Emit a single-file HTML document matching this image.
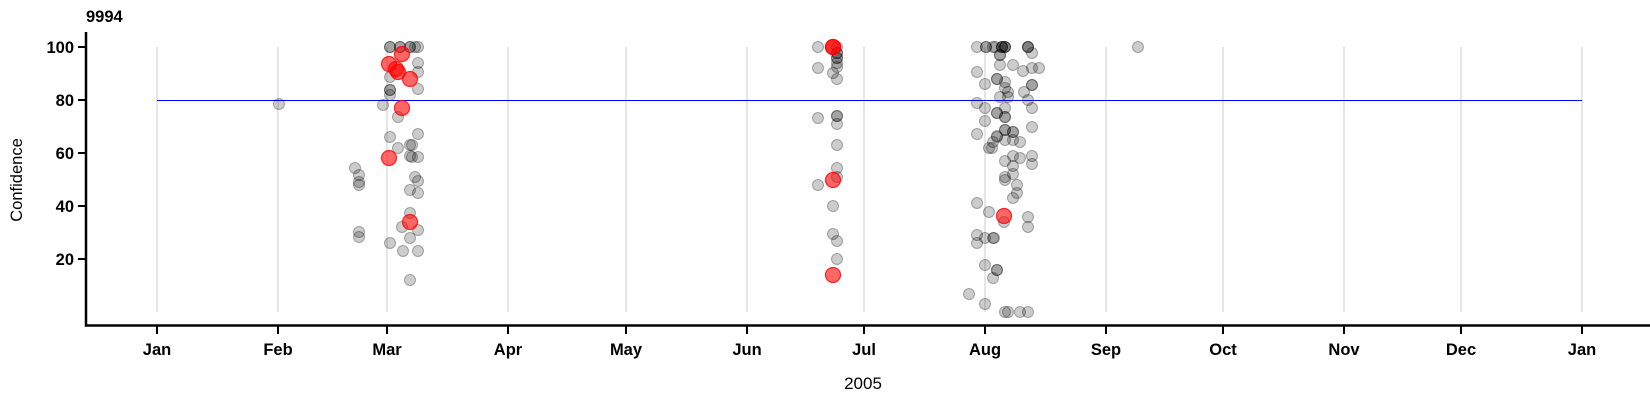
<!DOCTYPE html>
<html><head><meta charset="utf-8"><style>
html,body{margin:0;padding:0;background:#fff;}
svg{display:block;font-family:"Liberation Sans",Arial,sans-serif;}
.g{fill:rgba(0,0,0,0.2);stroke:rgba(0,0,0,0.3);stroke-width:1}
.r{fill:rgba(255,0,0,0.6);stroke:rgba(255,0,0,0.8);stroke-width:1.2}
.t{font-weight:bold;font-size:16.5px;fill:#000}
</style></head><body>
<svg width="1650" height="400" viewBox="0 0 1650 400">
<g stroke="#cccccc" stroke-width="1">
<line x1="157" y1="47" x2="157" y2="312"/><line x1="278" y1="47" x2="278" y2="312"/><line x1="387" y1="47" x2="387" y2="312"/><line x1="508" y1="47" x2="508" y2="312"/><line x1="626" y1="47" x2="626" y2="312"/><line x1="747" y1="47" x2="747" y2="312"/><line x1="864" y1="47" x2="864" y2="312"/><line x1="985" y1="47" x2="985" y2="312"/><line x1="1106" y1="47" x2="1106" y2="312"/><line x1="1223" y1="47" x2="1223" y2="312"/><line x1="1344" y1="47" x2="1344" y2="312"/><line x1="1461" y1="47" x2="1461" y2="312"/><line x1="1582" y1="47" x2="1582" y2="312"/>
</g>
<line x1="157" y1="100.5" x2="1582" y2="100.5" stroke="#0000ff" stroke-width="1"/>
<g stroke="#000" stroke-width="2.5" fill="none">
<path d="M86 32 V325.5 H1650"/>
</g>
<g stroke="#000" stroke-width="2">
<line x1="78" y1="47" x2="86" y2="47"/><line x1="78" y1="100" x2="86" y2="100"/><line x1="78" y1="153" x2="86" y2="153"/><line x1="78" y1="206" x2="86" y2="206"/><line x1="78" y1="259" x2="86" y2="259"/>
<line x1="157" y1="326" x2="157" y2="334"/><line x1="278" y1="326" x2="278" y2="334"/><line x1="387" y1="326" x2="387" y2="334"/><line x1="508" y1="326" x2="508" y2="334"/><line x1="626" y1="326" x2="626" y2="334"/><line x1="747" y1="326" x2="747" y2="334"/><line x1="864" y1="326" x2="864" y2="334"/><line x1="985" y1="326" x2="985" y2="334"/><line x1="1106" y1="326" x2="1106" y2="334"/><line x1="1223" y1="326" x2="1223" y2="334"/><line x1="1344" y1="326" x2="1344" y2="334"/><line x1="1461" y1="326" x2="1461" y2="334"/><line x1="1582" y1="326" x2="1582" y2="334"/>
</g>
<text x="86" y="22" class="t" font-size="15.5">9994</text>
<g class="t" text-anchor="end">
<text x="74" y="53">100</text><text x="74" y="106">80</text><text x="74" y="159">60</text><text x="74" y="212">40</text><text x="74" y="265">20</text>
</g>
<g class="t" text-anchor="middle">
<text x="157" y="355">Jan</text><text x="278" y="355">Feb</text><text x="387" y="355">Mar</text><text x="508" y="355">Apr</text><text x="626" y="355">May</text><text x="747" y="355">Jun</text><text x="864" y="355">Jul</text><text x="985" y="355">Aug</text><text x="1106" y="355">Sep</text><text x="1223" y="355">Oct</text><text x="1344" y="355">Nov</text><text x="1461" y="355">Dec</text><text x="1582" y="355">Jan</text>
</g>
<text x="863" y="389" text-anchor="middle" font-size="17">2005</text>
<text transform="translate(22,180) rotate(-90)" text-anchor="middle" font-size="16.5">Confidence</text>
<g class="g">
<circle cx="279" cy="104" r="5.5"/><circle cx="1138" cy="47" r="5.5"/>
<circle cx="390" cy="47" r="5.5"/><circle cx="390" cy="47" r="5.5"/><circle cx="400" cy="47" r="5.5"/><circle cx="400" cy="47" r="5.5"/><circle cx="410" cy="47" r="5.5"/><circle cx="410" cy="47" r="5.5"/><circle cx="415" cy="47" r="5.5"/><circle cx="418" cy="47" r="5.5"/>
<circle cx="390" cy="77" r="5.5"/><circle cx="390" cy="90" r="5.5"/><circle cx="390" cy="90" r="5.5"/><circle cx="390" cy="95" r="5.5"/><circle cx="383" cy="105" r="5.5"/><circle cx="398" cy="117" r="5.5"/><circle cx="390" cy="137" r="5.5"/><circle cx="398" cy="148" r="5.5"/><circle cx="410" cy="145" r="5.5"/><circle cx="410" cy="156" r="5.5"/><circle cx="418" cy="134" r="5.5"/><circle cx="418" cy="157" r="5.5"/><circle cx="412" cy="145" r="5.5"/><circle cx="412" cy="157" r="5.5"/>
<circle cx="355" cy="168" r="5.5"/><circle cx="359" cy="175" r="5.5"/><circle cx="359" cy="182" r="5.5"/><circle cx="359" cy="185" r="5.5"/><circle cx="415" cy="177" r="5.5"/><circle cx="418" cy="181" r="5.5"/><circle cx="410" cy="190" r="5.5"/><circle cx="418" cy="193" r="5.5"/><circle cx="410" cy="213" r="5.5"/><circle cx="402" cy="227" r="5.5"/><circle cx="418" cy="230" r="5.5"/><circle cx="410" cy="238" r="5.5"/><circle cx="359" cy="232" r="5.5"/><circle cx="359" cy="237" r="5.5"/><circle cx="390" cy="243" r="5.5"/><circle cx="403" cy="251" r="5.5"/><circle cx="418" cy="251" r="5.5"/><circle cx="410" cy="280" r="5.5"/><circle cx="418" cy="63" r="5.5"/><circle cx="418" cy="72" r="5.5"/><circle cx="418" cy="89" r="5.5"/>
<circle cx="818" cy="47" r="5.5"/><circle cx="818" cy="68" r="5.5"/><circle cx="818" cy="118" r="5.5"/><circle cx="818" cy="185" r="5.5"/>
<circle cx="837" cy="47" r="5.5"/><circle cx="837" cy="53" r="5.5"/><circle cx="837" cy="53" r="5.5"/><circle cx="837" cy="58" r="5.5"/><circle cx="837" cy="58" r="5.5"/><circle cx="837" cy="63" r="5.5"/><circle cx="837" cy="67" r="5.5"/><circle cx="833" cy="73" r="5.5"/><circle cx="837" cy="79" r="5.5"/><circle cx="837" cy="116" r="5.5"/><circle cx="837" cy="116" r="5.5"/><circle cx="837" cy="124" r="5.5"/><circle cx="837" cy="145" r="5.5"/><circle cx="837" cy="168" r="5.5"/><circle cx="837" cy="177" r="5.5"/><circle cx="833" cy="206" r="5.5"/><circle cx="833" cy="234" r="5.5"/><circle cx="837" cy="241" r="5.5"/><circle cx="837" cy="259" r="5.5"/>
<circle cx="977" cy="47" r="5.5"/><circle cx="986" cy="47" r="5.5"/><circle cx="986" cy="47" r="5.5"/><circle cx="993" cy="47" r="5.5"/><circle cx="977" cy="72" r="5.5"/><circle cx="985" cy="84" r="5.5"/><circle cx="997" cy="79" r="5.5"/><circle cx="977" cy="103" r="5.5"/><circle cx="985" cy="108" r="5.5"/><circle cx="997" cy="113" r="5.5"/><circle cx="985" cy="121" r="5.5"/><circle cx="977" cy="134" r="5.5"/><circle cx="997" cy="136" r="5.5"/><circle cx="993" cy="142" r="5.5"/><circle cx="989" cy="148" r="5.5"/><circle cx="977" cy="203" r="5.5"/><circle cx="989" cy="212" r="5.5"/><circle cx="977" cy="235" r="5.5"/><circle cx="977" cy="243" r="5.5"/><circle cx="985" cy="238" r="5.5"/><circle cx="994" cy="238" r="5.5"/><circle cx="985" cy="265" r="5.5"/><circle cx="997" cy="270" r="5.5"/><circle cx="993" cy="278" r="5.5"/><circle cx="969" cy="294" r="5.5"/><circle cx="985" cy="304" r="5.5"/>
<circle cx="1002" cy="47" r="5.5"/><circle cx="1002" cy="47" r="5.5"/><circle cx="1002" cy="47" r="5.5"/><circle cx="1005" cy="47" r="5.5"/><circle cx="1005" cy="47" r="5.5"/><circle cx="1005" cy="47" r="5.5"/><circle cx="1028" cy="47" r="5.5"/><circle cx="1028" cy="47" r="5.5"/><circle cx="1028" cy="47" r="5.5"/><circle cx="995" cy="47" r="5.5"/><circle cx="1000" cy="55" r="5.5"/><circle cx="1000" cy="55" r="5.5"/><circle cx="1032" cy="53" r="5.5"/><circle cx="1000" cy="65" r="5.5"/><circle cx="1013" cy="65" r="5.5"/><circle cx="1023" cy="71" r="5.5"/><circle cx="1032" cy="68" r="5.5"/><circle cx="1039" cy="68" r="5.5"/><circle cx="997" cy="79" r="5.5"/><circle cx="1005" cy="82" r="5.5"/><circle cx="1005" cy="88" r="5.5"/><circle cx="1008" cy="92" r="5.5"/><circle cx="1000" cy="97" r="5.5"/><circle cx="1008" cy="97" r="5.5"/><circle cx="1024" cy="92" r="5.5"/><circle cx="1032" cy="85" r="5.5"/><circle cx="1032" cy="85" r="5.5"/><circle cx="1028" cy="100" r="5.5"/><circle cx="1032" cy="108" r="5.5"/><circle cx="1005" cy="108" r="5.5"/><circle cx="997" cy="113" r="5.5"/><circle cx="1005" cy="117" r="5.5"/><circle cx="1005" cy="117" r="5.5"/><circle cx="1032" cy="127" r="5.5"/><circle cx="1005" cy="130" r="5.5"/><circle cx="1005" cy="130" r="5.5"/><circle cx="1013" cy="132" r="5.5"/><circle cx="1013" cy="132" r="5.5"/><circle cx="997" cy="137" r="5.5"/><circle cx="1005" cy="140" r="5.5"/><circle cx="1013" cy="140" r="5.5"/><circle cx="1020" cy="142" r="5.5"/><circle cx="992" cy="148" r="5.5"/><circle cx="1005" cy="161" r="5.5"/><circle cx="1013" cy="156" r="5.5"/><circle cx="1020" cy="158" r="5.5"/><circle cx="1032" cy="156" r="5.5"/><circle cx="1032" cy="164" r="5.5"/><circle cx="1013" cy="166" r="5.5"/><circle cx="1013" cy="174" r="5.5"/><circle cx="1005" cy="177" r="5.5"/><circle cx="1005" cy="180" r="5.5"/><circle cx="1017" cy="185" r="5.5"/><circle cx="1017" cy="193" r="5.5"/><circle cx="1013" cy="198" r="5.5"/><circle cx="1004" cy="222" r="5.5"/><circle cx="1028" cy="217" r="5.5"/><circle cx="1028" cy="227" r="5.5"/><circle cx="993" cy="238" r="5.5"/><circle cx="997" cy="270" r="5.5"/><circle cx="1005" cy="312" r="5.5"/><circle cx="1008" cy="312" r="5.5"/><circle cx="1020" cy="312" r="5.5"/><circle cx="1028" cy="312" r="5.5"/>
</g>
<g class="r">
<circle cx="402" cy="54" r="7.5"/><circle cx="389" cy="64" r="7.5"/><circle cx="396" cy="69" r="7.5"/><circle cx="398" cy="72" r="7.5"/><circle cx="410" cy="79" r="7.5"/><circle cx="402" cy="108" r="7.5"/><circle cx="389" cy="158" r="7.5"/><circle cx="410" cy="222" r="7.5"/>
<circle cx="833" cy="47" r="7.5"/><circle cx="833" cy="47" r="7.5"/><circle cx="833" cy="180" r="7.5"/><circle cx="833" cy="275" r="7.5"/>
<circle cx="1004" cy="216" r="7.5"/>
</g>
</svg>
</body></html>
